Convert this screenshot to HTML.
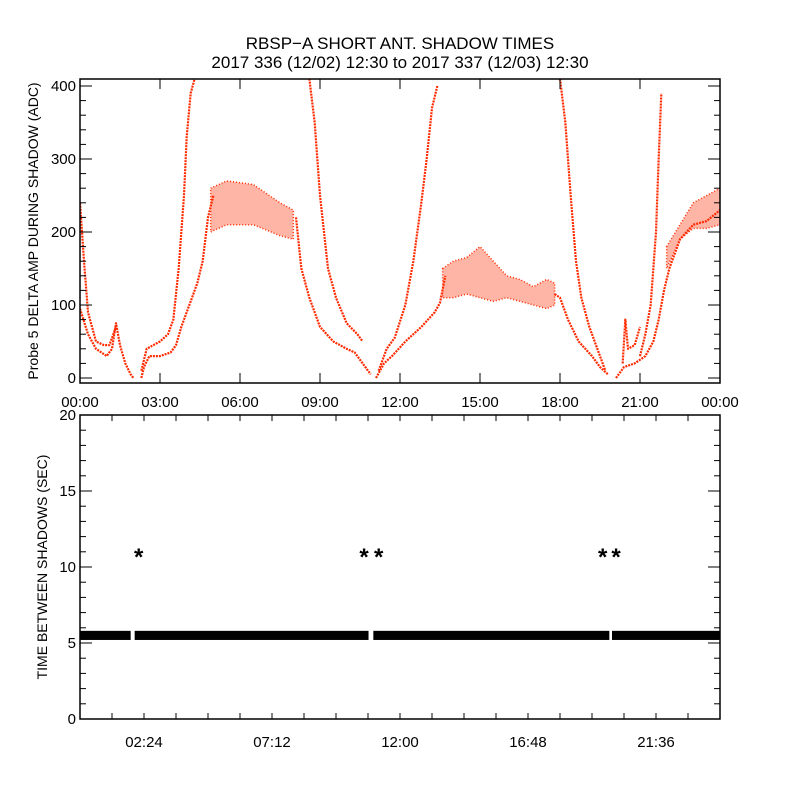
<!DOCTYPE html>
<html><head><meta charset="utf-8"><style>
body{margin:0;background:#fff}
svg{display:block;font-family:"Liberation Sans","DejaVu Sans",sans-serif}
</style></head><body>
<svg id="chart" width="800" height="800" viewBox="0 0 800 800">
<rect width="800" height="800" fill="#fff"/>
<text x="400" y="49" text-anchor="middle" font-size="17">RBSP−A SHORT ANT. SHADOW TIMES</text>
<text x="400" y="68" text-anchor="middle" font-size="17">2017 336 (12/02) 12:30 to 2017 337 (12/03) 12:30</text>
<g id="topPanel"></g>
<g id="botPanel"></g>
</svg>
<script>
// ---- top panel data (hours, ADC) ----
const topXTicks = ["00:00","03:00","06:00","09:00","12:00","15:00","18:00","21:00","00:00"];
const topYTicks = [0,100,200,300,400];
const traceMorningLow = [[0,95],[0.3,60],[0.6,40],[1,30],[1.2,40],[1.35,75],[1.5,45],[1.7,20],[1.9,5],[2.0,0]];
const traceMorningHigh = [[0,240],[0.15,160],[0.3,90],[0.6,50],[0.9,45],[1.1,45],[1.35,70]];
const traceRiseLow = [[2.3,0],[2.4,15],[2.6,30],[3.0,30],[3.4,35],[3.6,45],[3.8,70],[4.1,100],[4.4,130],[4.6,160],[4.8,220],[5.0,250]];
const traceRiseHigh = [[2.3,10],[2.5,40],[3.0,50],[3.3,60],[3.5,80],[3.7,150],[3.9,250],[4.0,330],[4.15,390],[4.3,410]];
const bandDayTop = [[4.9,260],[5.5,270],[6.5,265],[7.5,240],[8.0,230]];
const bandDayBottom = [[4.9,200],[5.5,210],[6.5,210],[7.5,195],[8.0,190]];
const traceFallLow = [[8.1,220],[8.3,150],[8.6,110],[9.0,70],[9.5,50],[10,40],[10.3,35],[10.5,25],[10.7,15],[10.9,5]];
const traceFallHigh = [[8.6,410],[8.8,350],[9.0,250],[9.3,150],[9.6,110],[10.0,75],[10.4,60],[10.6,50]];
const traceNoonLow = [[11.1,0],[11.4,20],[11.7,30],[12.2,50],[12.8,70],[13.3,90],[13.5,103],[13.7,140]];
const traceNoonHigh = [[11.2,10],[11.5,40],[11.8,55],[12.2,100],[12.5,160],[12.8,240],[13.0,300],[13.2,370],[13.4,400]];
const bandMidTop = [[13.6,150],[14,160],[14.5,165],[15,180],[15.5,160],[16,140],[16.5,135],[17,125],[17.5,135],[17.8,130]];
const bandMidBottom = [[13.6,110],[14,110],[14.5,115],[15,110],[15.5,105],[16,110],[16.5,105],[17,100],[17.5,95],[17.8,100]];
const traceEveLow = [[17.8,115],[18,110],[18.3,80],[18.7,50],[19.2,30],[19.5,15],[19.8,5]];
const traceEveHigh = [[18.0,410],[18.2,350],[18.4,250],[18.6,160],[18.8,110],[19.1,70],[19.4,40],[19.7,10]];
const traceLateLow = [[20.1,0],[20.4,15],[20.8,20],[21.2,30],[21.5,50],[21.7,80],[21.9,120],[22.1,150],[22.5,190],[23,210],[23.5,215],[24,230]];
const traceLateHigh = [[21.0,30],[21.2,60],[21.4,100],[21.6,200],[21.7,300],[21.8,390]];
const traceLateSpike = [[20.35,20],[20.45,80],[20.55,40],[20.8,45],[21.0,70]];
const bandLateTop = [[22,180],[22.5,210],[23,240],[23.5,250],[24,260]];
const bandLateBottom = [[22,150],[22.5,190],[23,205],[23.5,205],[24,210]];
// ---- bottom panel data ----
const botXTicks = ["02:24","07:12","12:00","16:48","21:36"];
const botXTickHours = [2.4,7.2,12,16.8,21.6];
const botYTicks = [0,5,10,15,20];
const bandSegments = [[0,1.9],[2.05,10.82],[11.0,19.85],[19.95,24]];
const bandValue = 5.5;
const outlierHours = [2.2,10.65,11.2,19.6,20.1];
const outlierValues = [11,11,11,11,11];

const NS="http://www.w3.org/2000/svg";
function mk(tag,attrs,parent){const e=document.createElementNS(NS,tag);for(const k in attrs)e.setAttribute(k,attrs[k]);parent.appendChild(e);return e;}
const L=80,R=720;
const xs=h=>L+h*(R-L)/24;
const tTop=79,tBot=383;
const yT=v=>378-v*0.73;
const bTop=415,bBot=719;
const yB=v=>bBot-v*(bBot-bTop)/20;

const topG=document.getElementById('topPanel');
const botG=document.getElementById('botPanel');

const defs=mk('defs',{},topG);
const clip=mk('clipPath',{id:'cp'},defs);
mk('rect',{x:L,y:tTop,width:R-L,height:tBot-tTop},clip);
const plotG=mk('g',{'clip-path':'url(#cp)'},topG);

function band(topArr,botArr,name){
  const pts=topArr.map(p=>xs(p[0])+','+yT(p[1])).concat(botArr.slice().reverse().map(p=>xs(p[0])+','+yT(p[1])));
  const e=mk('polygon',{points:pts.join(' '),fill:'#ff2a00','fill-opacity':'0.35',stroke:'#ff2a00','stroke-width':'1.5','stroke-dasharray':'1 2'},plotG);
  
  
}
function trace(arr,name){
  const e=mk('polyline',{points:arr.map(p=>xs(p[0])+','+yT(p[1])).join(' '),fill:'none',stroke:'#ff2a00','stroke-width':'2.2','stroke-dasharray':'2 1','stroke-linejoin':'round'},plotG);
  
  
}
[[bandDayTop,bandDayBottom,'band-day'],[bandMidTop,bandMidBottom,'band-midday'],[bandLateTop,bandLateBottom,'band-late']].forEach(b=>band(b[0],b[1],b[2]));
[[traceMorningLow,'trace-morning-low'],[traceMorningHigh,'trace-morning-high'],[traceRiseLow,'trace-rise-low'],[traceRiseHigh,'trace-rise-high'],[traceFallLow,'trace-fall-low'],[traceFallHigh,'trace-fall-high'],[traceNoonLow,'trace-noon-low'],[traceNoonHigh,'trace-noon-high'],[traceEveLow,'trace-evening-low'],[traceEveHigh,'trace-evening-high'],[traceLateLow,'trace-late-low'],[traceLateHigh,'trace-late-high'],[traceLateSpike,'trace-late-spike']].forEach(t=>trace(t[0],t[1]));

let fr=mk('rect',{x:L,y:tTop,width:R-L,height:tBot-tTop,fill:'none',stroke:'#000','stroke-width':'1.5'},topG);


topXTicks.forEach((lab,i)=>{
  const x=xs(i*3);
  mk('line',{x1:x,x2:x,y1:tBot,y2:tBot-10,stroke:'#000'},topG);
  mk('line',{x1:x,x2:x,y1:tTop,y2:tTop+10,stroke:'#000'},topG);
  const t=mk('text',{x:x,y:tBot+24,'text-anchor':'middle','font-size':'15'},topG);
  t.textContent=lab;
  
  
});
for(let v=0;v<=400;v+=20){
  const y=yT(v),len=(v%100===0)?12:6;
  mk('line',{x1:L,x2:L+len,y1:y,y2:y,stroke:'#000'},topG);
  mk('line',{x1:R,x2:R-len,y1:y,y2:y,stroke:'#000'},topG);
}
topYTicks.forEach(v=>{
  const t=mk('text',{x:L-4,y:yT(v)+5,'text-anchor':'end','font-size':'15'},topG);
  t.textContent=v;
  
  
});
let yt=mk('text',{x:0,y:0,'text-anchor':'middle','font-size':'14',transform:'translate(38,231) rotate(-90)'},topG);
yt.textContent='Probe 5 DELTA AMP DURING SHADOW (ADC)';



// ---- bottom panel ----
bandSegments.forEach(s=>{
  const r=mk('rect',{x:xs(s[0]),y:yB(bandValue+0.3),width:xs(s[1])-xs(s[0]),height:yB(bandValue-0.3)-yB(bandValue+0.3),fill:'#000'},botG);
  
  
});
outlierHours.forEach((h,i)=>{
  const t=mk('text',{x:xs(h),y:yB(outlierValues[i])+13,'text-anchor':'middle','font-size':'24','font-weight':'bold'},botG);
  t.textContent='*';
  
  
});
fr=mk('rect',{x:L,y:bTop,width:R-L,height:bBot-bTop,fill:'none',stroke:'#000','stroke-width':'1.5'},botG);


for(let k=1;k<20;k++){
  const x=xs(k*1.2);
  mk('line',{x1:x,x2:x,y1:bBot,y2:bBot-6,stroke:'#000'},botG);
  mk('line',{x1:x,x2:x,y1:bTop,y2:bTop+6,stroke:'#000'},botG);
}
botXTicks.forEach((lab,i)=>{
  const t=mk('text',{x:xs(botXTickHours[i]),y:bBot+28,'text-anchor':'middle','font-size':'15'},botG);
  t.textContent=lab;
  
  
});
for(let v=0;v<=20;v+=1){
  const y=yB(v),len=(v%5===0)?12:6;
  mk('line',{x1:L,x2:L+len,y1:y,y2:y,stroke:'#000'},botG);
  mk('line',{x1:R,x2:R-len,y1:y,y2:y,stroke:'#000'},botG);
}
botYTicks.forEach(v=>{
  const t=mk('text',{x:L-4,y:yB(v)+5,'text-anchor':'end','font-size':'15'},botG);
  t.textContent=v;
  
  
});
yt=mk('text',{x:0,y:0,'text-anchor':'middle','font-size':'14',transform:'translate(47,567) rotate(-90)'},botG);
yt.textContent='TIME BETWEEN SHADOWS (SEC)';


</script>
</body></html>
